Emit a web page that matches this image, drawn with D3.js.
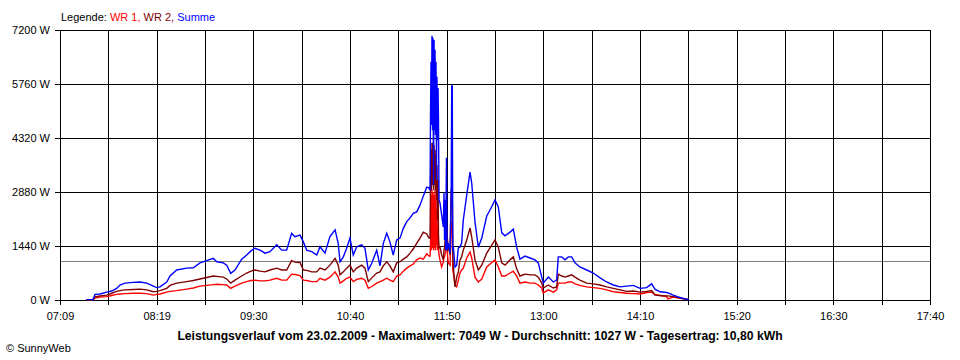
<!DOCTYPE html>
<html><head><meta charset="utf-8">
<script src="https://cdn.jsdelivr.net/npm/d3@7"></script>
<style>
body{margin:0;background:#fff}
svg{display:block}
text{font-family:"Liberation Sans",Arial,sans-serif}
</style>
</head><body>
<svg id="c" width="960" height="360"></svg>
<script>
// ---------- data ----------
const xTickLabels = ["07:09","08:19","09:30","10:40","11:50","13:00","14:10","15:20","16:30","17:40"];
const yTicks = [0,1440,2880,4320,5760,7200];
const average = 1027;
const legendParts = ["Legende: ", "WR 1,", " WR 2,", " Summe"];
const titleText = "Leistungsverlauf vom 23.02.2009 - Maximalwert: 7049 W - Durchschnitt: 1027 W - Tagesertrag: 10,80 kWh";
const copyright = "\u00A9 SunnyWeb";

// minutes since midnight
const times = [447.9,452.9,454.4,458.0,462.9,466.5,470.1,472.5,476.1,482.2,
487.0,491.9,496.7,499.1,501.5,506.4,508.8,513.6,520.9,525.7,
530.5,535.4,540.2,542.7,547.4,549.9,552.8,555.9,560.8,564.4,
567.5,570.4,574.1,577.7,581.3,586.2,589.8,593.4,597.0,599.4,
603.1,605.5,607.9,611.6,615.2,617.6,621.2,624.8,628.5,630.8,
632.1,634.5,636.9,639.3,641.7,644.2,647.8,650.2,652.6,655.1,
658.7,661.1,663.5,666.0,668.3,670.7,673.2,675.6,678.0,680.5,
682.9,685.2,687.7,690.1,692.5,695.0,696.6,
697.4,697.7,698.1,698.4,698.8,699.2,699.5,699.9,700.3,700.6,701.0,701.3,701.7,702.1,702.4,702.8,703.2,703.5,703.9,
704.6,705.8,707.0,707.5,707.9,708.2,708.7,709.3,709.7,710.6,
711.9,712.7,713.1,713.5,713.9,714.3,715.5,716.7,717.9,719.1,
720.3,721.5,724.0,726.4,727.6,730.0,732.4,734.9,738.5,740.9,
744.5,746.9,749.4,751.8,755.4,757.8,760.2,762.6,766.3,769.9,
773.5,775.9,778.4,779.5,783.2,786.8,789.2,790.4,792.9,795.3,
797.7,800.1,802.5,806.1,811.0,815.8,820.7,825.5,830.3,835.2,
840.0,844.8,849.7,854.5,858.1,860.5,864.2,869.0,870.0,873.8,
877.4,881.1,885.2];

const wr1 = [0,10,50,80,90,120,150,160,170,180,
180,170,130,150,160,210,230,250,290,320,
370,390,410,420,410,400,310,370,450,490,
520,530,510,510,530,580,530,530,690,680,
650,530,520,490,490,580,530,610,750,610,
450,510,580,610,490,550,580,530,310,360,
450,490,530,580,530,490,640,670,770,850,
910,960,1070,1120,1090,1230,1170,
1170,1470,2800,1330,2930,1390,2880,1330,2800,1390,2930,1330,2670,1470,2400,1330,1870,1390,1200,
1070,880,1010,1150,1150,1200,1330,1520,1330,990,
930,2000,2080,2000,800,720,400,350,530,720,
800,850,1120,1280,1120,610,480,560,880,960,
1070,880,640,640,720,770,640,450,480,450,
450,400,320,190,270,210,270,450,450,450,
480,480,430,390,350,330,310,270,220,200,
180,170,160,200,210,150,120,90,30,80,
50,30,10];

const wr2 = [0,10,80,110,130,180,230,250,270,280,
290,270,220,230,250,310,390,450,490,520,
560,600,640,630,610,560,450,530,640,720,
770,800,770,750,800,850,800,800,1050,1010,
1000,800,790,750,750,850,800,930,1110,930,
670,750,850,930,750,850,930,850,490,590,
720,750,910,1020,910,750,990,1020,1090,1150,
1250,1360,1510,1650,1810,1760,1650,
1650,2930,4000,2930,4190,3070,4190,2930,4130,3070,4000,2930,3870,2670,3600,2130,3200,1730,1390,
1410,1200,1070,1330,1390,1520,1730,1950,1730,1410,
1200,2930,2990,2930,1070,880,350,610,750,1070,
1150,1330,1600,1920,1680,1070,800,930,1250,1390,
1600,1410,990,930,1070,1150,830,640,690,670,
670,610,450,320,400,320,350,690,640,610,
640,670,610,530,450,430,400,350,310,270,
230,240,210,230,250,130,120,110,110,90,
70,40,10];

const summe = [10,10,150,160,210,240,310,400,450,470,
480,450,370,330,350,480,640,800,850,860,
990,1050,1110,1020,990,930,710,800,1090,1200,
1310,1380,1330,1250,1290,1470,1330,1330,1780,1690,
1730,1550,1330,1290,1200,1420,1250,1690,1870,1510,
1020,1150,1380,1650,1200,1420,1470,1380,800,980,
1330,910,1510,1780,1550,1200,1600,1650,1910,2090,
2190,2310,2350,2530,2770,3010,2990,
2930,4800,6350,4670,7049,4530,6990,3070,6930,4530,6670,4400,6350,3200,5950,4270,5650,4850,2670,
2590,2270,1950,2850,1600,2670,1330,3790,1330,1520,
1250,2670,5710,5710,1330,1410,880,930,1390,1410,
1520,2130,2800,3410,3120,2080,1410,1650,2240,2400,
2670,2480,1790,1710,1810,1890,1410,1090,1170,1120,
1070,990,610,450,610,480,530,1150,1150,1070,
1150,1150,990,880,800,720,590,480,400,350,
370,390,310,330,430,290,220,200,190,130,
80,40,10];

// ---------- chart ----------
const svg = d3.select("#c");
const L = 60, R = 930, T = 30, B = 300;
const toMin = s => { const p = s.split(":").map(Number); return p[0]*60 + p[1]; };
const tStart = toMin(xTickLabels[0]), tEnd = toMin(xTickLabels[xTickLabels.length-1]);
const x = d3.scaleLinear().domain([tStart, tEnd]).range([L, R]);
const y = d3.scaleLinear().domain([0, 7200]).range([B, T]);
const nLab = xTickLabels.length;
const labelTimes = d3.range(nLab).map(i => tStart + i*(tEnd - tStart)/(nLab-1));
const gridTimes = d3.range(2*(nLab-1)+1).map(i => tStart + i*(tEnd - tStart)/(2*(nLab-1)));

svg.append("rect").attr("width",960).attr("height",360).attr("fill","#fff");

// average line
svg.append("line").attr("x1",L).attr("x2",R)
  .attr("y1",Math.round(y(average))+0.5).attr("y2",Math.round(y(average))+0.5)
  .attr("stroke","#808080").attr("stroke-width",1);

// grid
const g = svg.append("g").attr("stroke","#000").attr("stroke-width",1).attr("shape-rendering","crispEdges");
g.selectAll("line.h").data(yTicks).join("line").attr("class","h")
  .attr("x1",L-5).attr("x2",R).attr("y1",d=>Math.round(y(d))+0.5).attr("y2",d=>Math.round(y(d))+0.5);
g.selectAll("line.v").data(gridTimes).join("line").attr("class","v")
  .attr("x1",d=>Math.round(x(d))+0.5).attr("x2",d=>Math.round(x(d))+0.5).attr("y1",T).attr("y2",B+5);

// axes (labels)
const ya = svg.append("g").attr("transform",`translate(${L},0)`)
  .call(d3.axisLeft(y).tickValues(yTicks).tickSize(0).tickPadding(10).tickFormat(d => d + " W"));
ya.select(".domain").remove();
ya.selectAll("text").attr("font-size",11).attr("font-family","'Liberation Sans',Arial,sans-serif").attr("fill","#000");

const xa = svg.append("g").attr("transform",`translate(0,${B})`)
  .call(d3.axisBottom(x).tickValues(labelTimes).tickSize(0).tickPadding(12).tickFormat((d,i) => xTickLabels[i]));
xa.select(".domain").remove();
xa.selectAll("text").attr("font-size",11).attr("font-family","'Liberation Sans',Arial,sans-serif").attr("fill","#000");

// series
const line = d3.line().x((d,i) => x(times[i])).y(d => y(d));
const series = [
  {vals: wr1, color: "#ff0000"},
  {vals: wr2, color: "#800000"},
  {vals: summe, color: "#0000ff"}
];
svg.selectAll("path.s").data(series).join("path").attr("class","s")
  .attr("d", d => line(d.vals)).attr("fill","none")
  .attr("stroke", d => d.color).attr("stroke-width",1.4).attr("stroke-linejoin","miter");

// legend
const legColors = ["#000","#ff0000","#800000","#0000ff"];
const leg = svg.append("text").attr("x",61).attr("y",21).attr("font-size",11).attr("xml:space","preserve");
leg.selectAll("tspan").data(legendParts).join("tspan").attr("fill",(d,i)=>legColors[i]).text(d=>d);

// title
const title = svg.append("text").attr("x",480).attr("y",340).attr("text-anchor","middle")
  .attr("font-weight","bold").attr("font-size",12).attr("fill","#000").text(titleText);
const w = title.node().getComputedTextLength();
if (w > 0) title.attr("font-size", 12*606/w);

svg.append("text").attr("x",6).attr("y",352).attr("font-size",11).attr("fill","#000").text(copyright);
</script>
</body></html>
